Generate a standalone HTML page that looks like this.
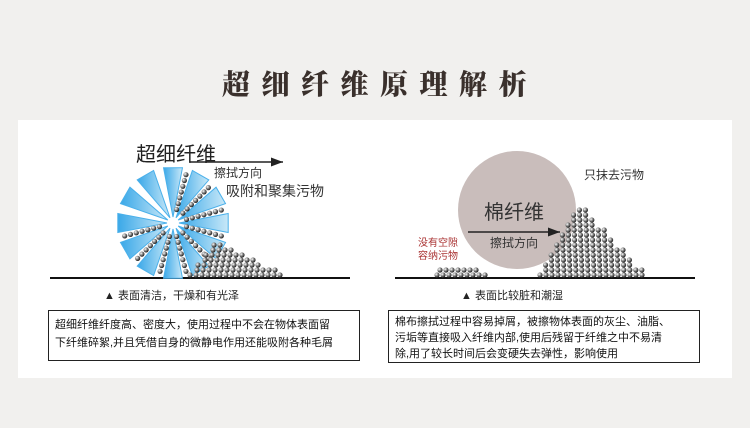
<!DOCTYPE html>
<html><head><meta charset="utf-8"><style>
body{margin:0;width:750px;height:428px;background:#f1f0ee;overflow:hidden;font-family:"Liberation Sans","Noto Sans CJK SC",sans-serif;}
.t{position:absolute;white-space:nowrap;}
</style></head><body>
<div class="t" style="left:222px;top:66px;font-family:'Noto Serif CJK SC',serif;font-weight:900;font-size:28px;letter-spacing:11.5px;color:#3a302c;line-height:34px">超细纤维原理解析</div>
<div style="position:absolute;left:18px;top:120px;width:714px;height:258px;background:#fff"></div>
<svg id="s" style="position:absolute;left:0;top:0" width="750" height="428">
<line x1="50" y1="278" x2="350" y2="278" stroke="#111" stroke-width="2"/>
<line x1="395" y1="278" x2="695" y2="278" stroke="#111" stroke-width="2"/>
<defs><radialGradient id="b" cx="35%" cy="35%" r="65%"><stop offset="0" stop-color="#fff"/><stop offset=".5" stop-color="#888"/><stop offset="1" stop-color="#222"/></radialGradient>
<linearGradient id="w" x1="0" y1="0" x2="1" y2="0"><stop offset="0" stop-color="#3aa8e8"/><stop offset="1" stop-color="#c8e8f8"/></linearGradient>
<marker id="a" markerWidth="8" markerHeight="6" refX="8" refY="3" orient="auto"><path d="M0,0L8,3L0,6z" fill="#222"/></marker></defs>
<g id="fan"></g>
<circle cx="517" cy="210" r="59" fill="#c9bdbb"/>
<g id="balls"></g>
<line x1="190" y1="162" x2="283" y2="162" stroke="#222" stroke-width="1.5" marker-end="url(#a)"/>
<line x1="468" y1="232" x2="560" y2="232" stroke="#222" stroke-width="1.5" marker-end="url(#a)"/>
<rect x="48.5" y="310.5" width="311" height="50" fill="none" stroke="#222"/>
<rect x="388.5" y="310.5" width="311" height="52" fill="none" stroke="#222"/>
</svg>
<div class="t" style="left:136px;top:138px;font-size:20px;color:#222">超细纤维</div>
<div class="t" style="left:214px;top:164px;font-size:12px;color:#333">擦拭方向</div>
<div class="t" style="left:226px;top:181px;font-size:14px;color:#333">吸附和聚集污物</div>
<div class="t" style="left:104px;top:287px;font-size:11px;color:#222">▲ 表面清洁，干燥和有光泽</div>
<div class="t" style="left:55px;top:316px;font-size:11px;color:#111;line-height:18px">超细纤维纤度高、密度大，使用过程中不会在物体表面留<br>下纤维碎絮,并且凭借自身的微静电作用还能吸附各种毛屑</div>
<div class="t" style="left:584px;top:166px;font-size:12px;color:#333">只抹去污物</div>
<div class="t" style="left:484px;top:196px;font-size:20px;color:#333">棉纤维</div>
<div class="t" style="left:490px;top:234px;font-size:12px;color:#333">擦拭方向</div>
<div class="t" style="left:418px;top:237px;font-size:10px;color:#a33;line-height:13px">没有空隙<br>容纳污物</div>
<div class="t" style="left:461px;top:287px;font-size:11px;color:#222">▲ 表面比较脏和潮湿</div>
<div class="t" style="left:395px;top:314px;font-size:11px;color:#111;line-height:16px">棉布擦拭过程中容易掉屑，被擦物体表面的灰尘、油脂、<br>污垢等直接吸入纤维内部,使用后残留于纤维之中不易清<br>除,用了较长时间后会变硬失去弹性，影响使用</div>
<script>
var ns="http://www.w3.org/2000/svg",fan=document.getElementById('fan'),bl=document.getElementById('balls');
var cx=173,cy=223,R=56;
for(var i=0;i<12;i++){var a=i*Math.PI/6,d=0.17;
var p=document.createElementNS(ns,'path');
var x1=cx+R*Math.cos(a-d),y1=cy+R*Math.sin(a-d),x2=cx+R*Math.cos(a+d),y2=cy+R*Math.sin(a+d);
p.setAttribute('d','M'+(cx+6*Math.cos(a))+','+(cy+6*Math.sin(a))+'L'+x1+','+y1+'L'+x2+','+y2+'Z');
p.setAttribute('fill','url(#w)');p.setAttribute('stroke','#4ab0ea');fan.appendChild(p);}
function ball(x,y,r){var c=document.createElementNS(ns,'circle');c.setAttribute('cx',x);c.setAttribute('cy',y);c.setAttribute('r',r||2.6);c.setAttribute('fill','url(#b)');bl.appendChild(c);}
for(var i=0;i<12;i++){var a=i*Math.PI/6+Math.PI/12;if(a>Math.PI*0.95&&a<Math.PI*1.45)continue;
for(var r=14;r<R;r+=6)ball(cx+r*Math.cos(a),cy+r*Math.sin(a));}
for(var row=0;row<8;row++){var y=275-row*5;var xs=190+row*4,xe=283-row*10;for(var x=xs;x<xe;x+=6)ball(x+(row%2)*3,y);}
for(var x=437;x<490;x+=6)ball(x,275);for(var x=440;x<480;x+=6)ball(x,270);
for(var row=0;row<14;row++){var y=275-row*5;var xs=540+row*2.8,xe=645-row*4.8;for(var x=xs;x<xe;x+=6)ball(x+(row%2)*3,y);}
</script>
</body></html>
